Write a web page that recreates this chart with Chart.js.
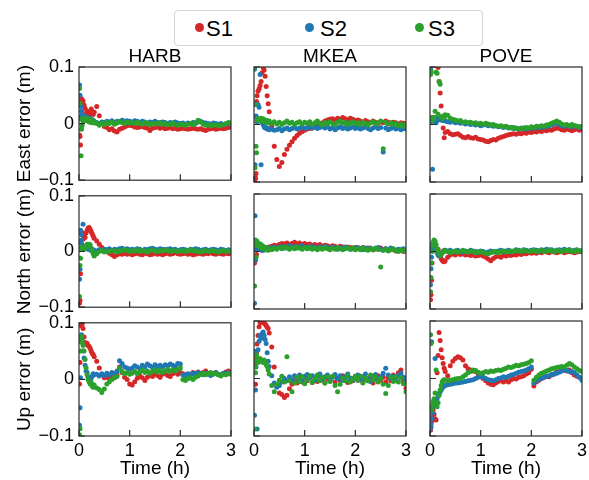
<!DOCTYPE html>
<html lang="en">
<head>
  <meta charset="UTF-8" />
  <title>Position error per station</title>
  <script src="https://cdn.jsdelivr.net/npm/chart.js"></script>
  <style>
    * { margin: 0; padding: 0; box-sizing: border-box; }
    body {
      width: 589px;
      height: 480px;
      position: relative;
      overflow: hidden;
      background: #fff;
      font-family: 'Liberation Sans', Arial, sans-serif;
    }
    canvas { position: absolute; }
    .legend {
      position: absolute;
      left: 174px;
      top: 10px;
      width: 309px;
      height: 36px;
      border: 1px solid #d4d4d4;
      border-radius: 4px;
      background: #fff;
    }
    .legend i {
      position: absolute;
      top: 11.5px;
      width: 9px;
      height: 9px;
      border-radius: 50%;
    }
    .legend span {
      position: absolute;
      top: 6px;
      font-size: 22px;
      line-height: 24px;
      color: #000;
    }
  </style>
</head>
<body>

  <div class="legend" id="legend"></div>

  <script>
    // time stamps (h), shared by every panel
    const T = [
      0.01, 0.02, 0.03, 0.04, 0.05, 0.06, 0.08, 0.10, 0.12, 0.14, 0.16, 0.18, 0.20, 0.22, 0.24, 0.26, 0.28, 0.30,
      0.35, 0.40, 0.45, 0.50, 0.55, 0.60, 0.65, 0.70, 0.75, 0.80, 0.85, 0.90, 0.95, 1.00,
      1.05, 1.10, 1.15, 1.20, 1.25, 1.30, 1.35, 1.40, 1.45, 1.50, 1.55, 1.60, 1.65, 1.70, 1.75, 1.80, 1.85, 1.90, 1.95, 2.00,
      2.05, 2.10, 2.15, 2.20, 2.25, 2.30, 2.35, 2.40, 2.45, 2.50, 2.55, 2.60, 2.65, 2.70, 2.75, 2.80, 2.85, 2.90, 2.95, 3.00
    ];

    const stations = ['HARB', 'MKEA', 'POVE'];
    const components = ['East error (m)', 'North error (m)', 'Up error (m)'];
    const seriesNames = ['S1', 'S2', 'S3'];
    const seriesColors = ['#d62728', '#1f77b4', '#2ca02c'];
    const xTickValues = [0, 1, 2, 3];
    const xTickLabels = ['0', '1', '2', '3'];
    const yTickValues = [-0.1, 0, 0.1];
    const yTickLabels = ['\u22120.1', '0', '0.1'];

    // ---- HARB ----
    const harbEastS1 = [
      -0.02, -0.023, -0.038, 0.038, 0.044, 0.042, 0.04, 0.033, 0.027, 0.018, 0.022, 0.016, 0.015, 0.02, 0.026, 0.022, 0.016, 0.02,
      0.03, 0.014, 0.002, -0.005, -0.007, -0.011, -0.009, -0.013, -0.015, -0.01, -0.008, -0.006, -0.004, -0.003,
      -0.004, -0.006, -0.007, -0.006, -0.005, -0.007, -0.008, -0.012, -0.008, -0.007, -0.006, -0.008, -0.007, -0.009, -0.008, -0.007, -0.009, -0.008, -0.01, -0.009,
      -0.008, -0.009, -0.01, -0.009, -0.008, -0.009, -0.01, -0.009, -0.011, -0.012, -0.01, -0.009, -0.008, -0.01, -0.009, -0.008, -0.009, -0.008, -0.007, -0.006
    ];
    const harbEastS2 = [
      0.068, 0.05, 0.012, 0.03, 0.022, 0.015, 0.012, 0.01, 0.013, 0.009, 0.011, 0.008, 0.01, 0.006, 0.008, 0.004, 0.006, 0.003,
      0.002, 0.0, 0.003, 0.002, 0.004, 0.003, 0.005, 0.002, 0.004, 0.003, 0.006, 0.004, 0.005, 0.004,
      0.003, 0.005, 0.004, 0.002, 0.004, 0.003, 0.001, 0.003, 0.002, 0.004, 0.002, 0.001, 0.003, 0.002, 0.0, 0.002, 0.001, 0.003, 0.001, 0.0,
      0.001, -0.001, 0.001, 0.0, 0.002, 0.0, 0.003, 0.004, 0.002, 0.001, 0.0, -0.001, 0.001, 0.0, -0.001, 0.0, -0.002, -0.001, 0.001, 0.0
    ];
    const harbEastS3 = [
      0.062, 0.036, 0.008, -0.057, -0.01, -0.004, 0.004, 0.009, 0.006, 0.01, 0.005, 0.008, 0.003, 0.007, 0.002, 0.005, 0.001, 0.004,
      0.0, -0.003, 0.001, -0.002, 0.002, 0.0, 0.003, -0.001, 0.001, 0.004, 0.002, 0.0, 0.003, 0.001,
      0.002, 0.0, 0.003, 0.001, -0.001, 0.002, 0.0, -0.002, 0.001, -0.001, 0.0, 0.002, -0.001, 0.0, -0.002, -0.001, 0.001, -0.002, -0.003, -0.001,
      -0.002, -0.003, -0.001, 0.0, -0.002, 0.002, 0.006, 0.003, -0.001, -0.003, -0.002, -0.004, -0.003, -0.002, -0.004, -0.003, -0.002, 0.0, 0.002, 0.001
    ];
    const harbNorthS1 = [
      -0.093, -0.088, -0.04, 0.015, 0.035, 0.03, 0.022, 0.028, 0.025, 0.033, 0.038, 0.042, 0.043, 0.04, 0.036, 0.032, 0.028, 0.024,
      0.019, 0.013, 0.007, 0.003, 0.0, -0.003, -0.006, -0.009, -0.006, -0.004, -0.005, -0.003, -0.005, -0.004,
      -0.006, -0.004, -0.003, -0.005, -0.006, -0.003, -0.004, -0.006, -0.005, -0.003, -0.005, -0.004, -0.006, -0.004, -0.003, -0.005, -0.004, -0.002, -0.004, -0.005,
      -0.004, -0.003, -0.005, -0.004, -0.006, -0.005, -0.003, -0.004, -0.005, -0.003, -0.004, -0.002, -0.004, -0.005, -0.003, -0.004, -0.005, -0.003, -0.004, -0.003
    ];
    const harbNorthS2 = [
      -0.05, -0.032, 0.038, 0.02, 0.03, 0.012, 0.049, 0.008, 0.006, 0.005, 0.007, 0.004, 0.006, 0.003, 0.002, 0.004, 0.003, 0.002,
      0.001, 0.003, 0.002, 0.004, 0.003, 0.005, 0.002, 0.004, 0.003, 0.005, 0.006, 0.004, 0.005, 0.003,
      0.004, 0.003, 0.005, 0.004, 0.002, 0.004, 0.003, 0.005, 0.006, 0.004, 0.003, 0.005, 0.004, 0.003, 0.004, 0.005, 0.003, 0.004, 0.002, 0.003,
      0.004, 0.003, 0.002, 0.004, 0.003, 0.005, 0.004, 0.002, 0.003, 0.004, 0.002, 0.003, 0.004, 0.003, 0.002, 0.004, 0.003, 0.002, 0.003, 0.002
    ];
    const harbNorthS3 = [
      -0.081, -0.025, -0.012, 0.005, 0.008, 0.006, 0.004, 0.008, 0.006, 0.01, 0.013, 0.012, 0.013, 0.012, 0.006, 0.001, -0.004, -0.008,
      -0.004, 0.0, 0.002, -0.001, 0.001, 0.0, 0.002, 0.001, -0.001, 0.002, 0.001, 0.003, 0.002, 0.0,
      0.002, 0.001, 0.003, 0.0, 0.002, 0.001, -0.001, 0.002, 0.003, 0.001, 0.0, 0.002, 0.001, 0.003, 0.002, 0.0, 0.001, 0.002, 0.0, 0.001,
      0.002, 0.0, 0.001, 0.003, 0.001, 0.002, 0.0, -0.001, 0.001, 0.002, 0.0, 0.001, 0.002, 0.0, -0.001, 0.001, 0.002, 0.0, 0.001, 0.0
    ];
    const harbUpS1 = [
      -0.008, 0.03, 0.07, 0.095, 0.098, 0.097, 0.09, 0.075, 0.065, 0.062, 0.064, 0.06, 0.058, 0.055, 0.05, 0.046, 0.044, 0.04,
      0.032, 0.02, 0.008, 0.003, 0.004, 0.002, 0.005, 0.003, 0.008, 0.022, 0.012, 0.004, 0.0, -0.008,
      -0.01, -0.004, 0.002, 0.006, 0.003, -0.002, 0.004, 0.008, 0.005, 0.01, 0.007, 0.004, 0.009, 0.011, 0.007, 0.005, 0.01, 0.012, 0.009, 0.012,
      0.01, 0.008, 0.006, 0.009, 0.012, 0.01, 0.013, 0.01, 0.012, 0.015, 0.011, 0.008, 0.01, 0.012, 0.009, 0.007, 0.01, 0.013, 0.015, 0.012
    ];
    const harbUpS2 = [
      -0.081, -0.05, 0.003, 0.067, 0.079, 0.072, 0.05, 0.038, 0.025, 0.015, 0.012, 0.004, 0.0, -0.004, 0.002, 0.006, 0.01, 0.008,
      0.009, 0.006, 0.01, 0.007, 0.011, 0.008, 0.012, 0.01, 0.015, 0.033, 0.028, 0.022, 0.02, 0.018,
      0.02, 0.024, 0.022, 0.019, 0.025, 0.022, 0.027, 0.024, 0.021, 0.026, 0.023, 0.025, 0.022, 0.026, 0.024, 0.027, 0.025, 0.023, 0.028, 0.027,
      0.008, 0.006, 0.01, 0.008, 0.011, 0.009, 0.012, 0.01, 0.008, 0.011, 0.009, 0.007, 0.01, 0.012, 0.009, 0.008, 0.011, 0.01, 0.012, 0.01
    ];
    const harbUpS3 = [
      -0.098, -0.087, 0.05, 0.072, 0.076, 0.065, 0.06, 0.05, 0.035, 0.02, 0.008, 0.0, -0.004, -0.008, -0.005, -0.012, -0.014, -0.01,
      -0.015, -0.018, -0.023, -0.017, -0.008, -0.004, 0.0, 0.003, 0.005, 0.02, 0.014, 0.01, 0.012, 0.009,
      0.011, 0.014, 0.01, 0.013, 0.016, 0.012, 0.015, 0.011, 0.014, 0.017, 0.013, 0.016, 0.012, 0.015, 0.018, 0.014, 0.017, 0.015, 0.018, 0.02,
      0.0, -0.002, 0.001, 0.003, 0.0, 0.004, 0.006, 0.009, 0.011, 0.008, 0.01, 0.012, 0.009, 0.011, 0.008, 0.006, 0.009, 0.008, 0.01, 0.009
    ];

    // ---- MKEA ----
    const mkeaEastS1 = [
      -0.098, -0.09, -0.094, -0.085, 0.04, 0.05, 0.058, 0.062, 0.068, 0.075, 0.09, 0.099, 0.095, 0.084, 0.066, 0.05, 0.036, 0.022,
      -0.003, -0.038, -0.061, -0.073, -0.066, -0.052, -0.043, -0.036, -0.03, -0.024, -0.019, -0.015, -0.012, -0.01,
      -0.008, -0.007, -0.006, -0.004, -0.002, 0.0, 0.003, 0.006, 0.008, 0.009, 0.01, 0.008, 0.011, 0.009, 0.012, 0.01, 0.008, 0.011, 0.009, 0.007,
      0.008, 0.006, 0.004, 0.007, 0.005, 0.003, 0.006, 0.004, 0.002, 0.005, 0.003, 0.006, 0.004, 0.002, 0.004, 0.003, 0.001, 0.003, 0.002, 0.001
    ];
    const mkeaEastS2 = [
      0.096, -0.07, 0.035, 0.015, 0.012, 0.005, 0.035, 0.03, 0.087, -0.07, 0.004, 0.0, -0.004, -0.006, -0.005, -0.008, -0.007, -0.009,
      -0.008, -0.01, -0.009, -0.007, -0.011, -0.008, -0.006, -0.009, -0.007, -0.005, -0.008, -0.006, -0.004, -0.007,
      -0.005, -0.003, -0.006, -0.004, -0.007, -0.005, -0.003, -0.006, -0.004, -0.008, -0.005, -0.009, -0.006, -0.004, -0.007, -0.005, -0.008, -0.006, -0.004, -0.007,
      -0.005, -0.008, -0.006, -0.004, -0.007, -0.009, -0.006, -0.004, -0.007, -0.005, -0.048, -0.006, -0.009, -0.007, -0.005, -0.008, -0.006, -0.009, -0.007, -0.008
    ];
    const mkeaEastS3 = [
      0.099, -0.075, 0.035, -0.038, -0.049, 0.008, 0.01, 0.006, 0.009, 0.011, 0.007, 0.01, 0.005, 0.008, 0.004, 0.007, 0.003, 0.006,
      0.002, 0.005, 0.001, 0.004, 0.0, 0.003, 0.006, 0.002, 0.004, 0.0, 0.003, 0.005, 0.001, 0.004,
      0.002, 0.005, 0.0, 0.003, 0.006, 0.002, -0.001, 0.004, 0.001, 0.005, 0.002, 0.0, 0.004, 0.006, 0.002, 0.004, 0.0, 0.003, 0.005, 0.001,
      0.003, 0.0, 0.004, 0.002, -0.001, 0.003, 0.005, 0.001, 0.003, 0.006, -0.042, 0.004, 0.001, 0.003, 0.0, 0.002, -0.002, 0.001, -0.003, 0.0
    ];
    const mkeaNorthS1 = [
      -0.02, -0.01, 0.005, 0.01, -0.005, 0.008, 0.012, 0.006, 0.01, 0.004, 0.002, 0.005, 0.003, 0.006, 0.004, 0.007, 0.005, 0.008,
      0.009, 0.011, 0.01, 0.012, 0.014, 0.013, 0.015, 0.012, 0.014, 0.016, 0.013, 0.015, 0.012, 0.014,
      0.012, 0.013, 0.011, 0.012, 0.01, 0.012, 0.009, 0.011, 0.01, 0.008, 0.01, 0.009, 0.007, 0.009, 0.008, 0.006, 0.008, 0.007, 0.005, 0.007,
      0.006, 0.005, 0.007, 0.004, 0.006, 0.005, 0.003, 0.005, 0.004, 0.006, 0.003, 0.005, 0.002, 0.004, 0.003, 0.001, 0.003, 0.002, 0.0, 0.001
    ];
    const mkeaNorthS2 = [
      -0.09, 0.062, -0.015, 0.005, 0.01, 0.003, 0.008, 0.004, 0.007, 0.003, 0.006, 0.002, 0.005, 0.003, 0.006, 0.004, 0.007, 0.005,
      0.006, 0.008, 0.005, 0.007, 0.009, 0.006, 0.008, 0.01, 0.007, 0.009, 0.006, 0.008, 0.01, 0.007,
      0.008, 0.006, 0.009, 0.007, 0.005, 0.008, 0.006, 0.009, 0.007, 0.005, 0.008, 0.006, 0.004, 0.007, 0.005, 0.008, 0.006, 0.004, 0.006, 0.005,
      0.007, 0.005, 0.003, 0.006, 0.004, 0.006, 0.003, 0.005, 0.007, 0.004, 0.002, 0.005, 0.003, 0.006, 0.004, 0.002, 0.004, 0.003, 0.005, 0.002
    ];
    const mkeaNorthS3 = [
      -0.06, 0.01, 0.02, -0.01, 0.015, 0.018, 0.01, 0.014, 0.008, 0.012, 0.006, 0.009, 0.004, 0.007, 0.003, 0.006, 0.002, 0.005,
      0.003, 0.006, 0.004, 0.007, 0.005, 0.008, 0.006, 0.004, 0.007, 0.005, 0.008, 0.006, 0.004, 0.007,
      0.005, 0.007, 0.004, 0.006, 0.003, 0.006, 0.004, 0.007, 0.005, 0.003, 0.006, 0.004, 0.007, 0.005, 0.003, 0.005, 0.007, 0.004, 0.006, 0.003,
      0.005, 0.003, 0.006, 0.004, 0.002, 0.005, 0.003, 0.006, 0.004, -0.027, 0.002, 0.004, 0.001, 0.003, 0.005, 0.002, 0.0, 0.003, 0.001, 0.002
    ];
    const mkeaUpS1 = [
      0.038, 0.026, -0.01, 0.03, 0.045, 0.06, 0.075, 0.09, 0.097, 0.099, 0.099, 0.098, 0.096, 0.095, 0.092, 0.089, 0.087, 0.079,
      0.055, 0.02, -0.012, -0.025, -0.028, -0.033, -0.029, -0.018, -0.01, -0.004, -0.008, -0.002, -0.006, 0.002,
      -0.004, 0.003, -0.007, 0.001, -0.005, 0.004, -0.002, -0.008, 0.0, -0.004, 0.003, -0.006, 0.001, -0.003, 0.005, -0.002, -0.007, 0.0, -0.004, 0.002,
      -0.003, 0.004, -0.006, 0.0, -0.004, 0.003, -0.008, -0.001, 0.005, -0.003, 0.002, -0.006, 0.001, -0.004, 0.006, 0.0, 0.01, 0.015, -0.005, -0.017
    ];
    const mkeaUpS2 = [
      -0.064, 0.047, -0.02, 0.02, 0.03, -0.088, 0.05, 0.065, 0.075, 0.07, 0.078, 0.081, 0.075, 0.068, 0.061, 0.045, 0.03, 0.021,
      0.005, -0.008, -0.015, -0.012, -0.006, 0.0, -0.004, 0.003, -0.002, 0.005, 0.0, 0.006, -0.003, 0.004,
      0.007, 0.001, 0.005, -0.003, 0.004, 0.008, -0.001, 0.003, 0.006, -0.004, 0.002, 0.007, 0.0, 0.005, -0.003, 0.003, 0.008, 0.001, -0.002, 0.004,
      0.006, -0.002, 0.003, 0.008, 0.0, -0.005, 0.004, 0.007, -0.001, 0.003, 0.009, 0.018, 0.006, 0.0, 0.004, -0.003, 0.005, 0.009, 0.002, -0.004
    ];
    const mkeaUpS3 = [
      -0.088, 0.02, 0.01, 0.03, 0.041, 0.035, 0.028, 0.03, 0.035, 0.032, 0.03, 0.028, 0.032, 0.03, 0.024, 0.021, 0.015, 0.008,
      -0.012, -0.023, -0.01, -0.003, 0.004, -0.006, 0.038, -0.004, -0.023, -0.008, 0.002, -0.005, 0.003, -0.009,
      -0.002, 0.005, -0.007, 0.0, 0.006, -0.004, 0.002, -0.008, 0.003, -0.005, 0.004, -0.012, -0.023, -0.01, 0.001, -0.004, 0.005, -0.006, 0.0, 0.004,
      -0.003, 0.004, -0.008, 0.001, -0.004, 0.006, -0.002, 0.003, -0.006, 0.0, -0.01, -0.026, -0.012, 0.002, -0.005, 0.003, -0.006, 0.001, -0.009, -0.023
    ];

    // ---- POVE ----
    const poveEastS1 = [
      0.096, 0.12, 0.13, 0.13, 0.12, 0.12, 0.115, 0.11, 0.105, 0.102, 0.099, 0.075, 0.055, 0.032, 0.012, -0.006, -0.023, -0.014,
      -0.012, -0.016, -0.018, -0.017, -0.016, -0.019, -0.022, -0.023, -0.021, -0.023, -0.024, -0.022, -0.025, -0.026,
      -0.027, -0.029, -0.03, -0.028, -0.026, -0.027, -0.024, -0.022, -0.021, -0.019, -0.018, -0.017, -0.016, -0.017, -0.015, -0.016, -0.014, -0.015, -0.013, -0.014,
      -0.012, -0.013, -0.011, -0.012, -0.01, -0.011, -0.009, -0.01, -0.008, -0.006, -0.007, -0.009, -0.01, -0.008, -0.009, -0.011, -0.009, -0.008, -0.01, -0.009
    ];
    const poveEastS2 = [
      0.099, 0.09, 0.005, 0.012, -0.078, 0.008, 0.012, 0.006, 0.003, 0.01, 0.008, 0.012, 0.009, 0.011, 0.007, 0.01, 0.008, 0.006,
      0.005, 0.004, 0.006, 0.003, 0.004, 0.002, 0.003, 0.001, 0.002, 0.0, 0.001, -0.001, 0.0, -0.002,
      -0.001, 0.0, -0.002, -0.001, -0.003, -0.002, -0.004, -0.003, -0.005, -0.004, -0.006, -0.005, -0.007, -0.006, -0.008, -0.007, -0.006, -0.008, -0.007, -0.006,
      -0.005, -0.006, -0.004, -0.005, -0.003, -0.004, -0.002, -0.001, 0.001, 0.003, 0.0, -0.002, -0.003, -0.001, -0.003, -0.004, -0.002, -0.003, -0.005, -0.004
    ];
    const poveEastS3 = [
      0.087, 0.093, 0.011, 0.006, 0.012, 0.009, 0.012, 0.023, 0.091, 0.089, 0.018, 0.075, 0.07, 0.013, 0.01, 0.015, 0.012, 0.017,
      0.016, 0.011, 0.009, 0.008, 0.006, 0.007, 0.004, 0.005, 0.003, 0.004, 0.002, 0.003, 0.001, 0.002,
      0.0, 0.002, 0.001, -0.001, 0.0, -0.002, -0.003, -0.002, -0.004, -0.003, -0.005, -0.006, -0.005, -0.007, -0.008, -0.006, -0.007, -0.005, -0.006, -0.004,
      -0.005, -0.003, -0.004, -0.002, -0.003, -0.001, 0.0, 0.002, 0.004, 0.006, 0.004, 0.001, -0.001, 0.0, -0.002, 0.0, -0.002, -0.003, -0.004, -0.003
    ];
    const poveNorthS1 = [
      -0.084, -0.075, -0.05, -0.02, 0.005, 0.012, 0.015, 0.012, 0.006, 0.003, 0.004, -0.002, -0.008, -0.012, -0.015, -0.017, -0.018, -0.016,
      -0.01, -0.006, -0.004, -0.006, -0.003, -0.005, -0.004, -0.006, -0.005, -0.007, -0.006, -0.008, -0.007, -0.006,
      -0.008, -0.01, -0.013, -0.016, -0.012, -0.009, -0.008, -0.01, -0.007, -0.008, -0.006, -0.007, -0.005, -0.006, -0.004, -0.005, -0.003, -0.004, -0.002, -0.003,
      -0.002, -0.003, -0.001, -0.002, 0.0, -0.001, -0.002, 0.0, -0.001, -0.002, -0.001, 0.0, -0.002, -0.001, 0.0, -0.001, -0.002, -0.001, 0.0, -0.001
    ];
    const poveNorthS2 = [
      -0.058, -0.03, -0.01, 0.008, 0.012, 0.01, 0.006, 0.002, 0.004, -0.002, -0.006, -0.008, -0.006, -0.004, -0.002, 0.0, 0.001, 0.002,
      0.001, 0.002, 0.0, 0.001, 0.002, 0.0, -0.001, 0.001, 0.0, 0.002, 0.001, 0.0, -0.001, 0.001,
      0.0, -0.002, -0.001, 0.001, 0.0, -0.001, 0.001, 0.002, 0.0, 0.001, 0.002, 0.0, 0.001, 0.003, 0.002, 0.001, 0.003, 0.002, 0.001, 0.002,
      0.003, 0.002, 0.001, 0.003, 0.002, 0.004, 0.002, 0.003, 0.001, 0.002, 0.003, 0.002, 0.004, 0.002, 0.003, 0.001, 0.002, 0.003, 0.001, 0.002
    ];
    const poveNorthS3 = [
      -0.07, -0.045, -0.02, 0.0, 0.01, 0.016, 0.02, 0.018, 0.012, 0.005, 0.0, -0.004, -0.007, -0.005, -0.002, 0.0, 0.002, 0.001,
      0.0, -0.002, 0.0, 0.001, -0.001, 0.0, 0.002, 0.0, -0.001, 0.001, 0.0, -0.002, -0.001, 0.0,
      -0.002, -0.003, -0.004, -0.002, -0.001, 0.0, -0.002, 0.0, 0.001, -0.001, 0.0, 0.001, 0.0, 0.002, 0.001, 0.0, 0.002, 0.001, 0.0, 0.001,
      0.002, 0.0, 0.001, 0.002, 0.0, 0.001, 0.003, 0.001, 0.0, 0.002, 0.001, 0.0, 0.002, 0.001, 0.003, 0.001, 0.0, 0.002, 0.001, 0.0
    ];
    const poveUpS1 = [
      -0.09, -0.085, -0.075, -0.068, -0.06, -0.055, -0.062, -0.07, -0.072, 0.01, 0.04, 0.08, 0.066, 0.05, 0.036, 0.026, 0.018, 0.012,
      0.005, 0.022, 0.03, 0.035, 0.038, 0.036, 0.032, 0.022, 0.017, 0.015, 0.013, 0.012, 0.008, 0.003,
      0.0, -0.004, -0.008, -0.01, -0.011, -0.008, -0.005, -0.003, -0.006, -0.004, -0.006, -0.002, 0.0, -0.001, 0.002, 0.003, 0.005, 0.008, 0.01, 0.016,
      -0.013, -0.006, -0.003, 0.0, 0.002, 0.004, 0.003, 0.006, 0.008, 0.011, 0.012, 0.014, 0.015, 0.013, 0.015, 0.01, 0.006, 0.004, 0.002, 0.0
    ];
    const poveUpS2 = [
      -0.087, -0.08, 0.064, -0.07, -0.06, -0.049, -0.045, 0.035, -0.038, -0.035, -0.03, -0.026, -0.023, -0.02, -0.017, -0.014, -0.013, -0.012,
      -0.011, -0.01, -0.009, -0.008, -0.008, -0.007, -0.006, -0.005, -0.004, -0.003, -0.002, 0.0, 0.002, 0.003,
      0.002, 0.0, -0.002, -0.003, -0.004, -0.002, 0.0, 0.001, 0.003, 0.002, 0.004, 0.006, 0.007, 0.009, 0.011, 0.012, 0.013, 0.015, 0.017, 0.02,
      -0.008, -0.004, -0.001, 0.0, 0.002, 0.004, 0.005, 0.007, 0.008, 0.009, 0.011, 0.013, 0.015, 0.014, 0.012, 0.012, 0.01, 0.006, 0.002, -0.003
    ];
    const poveUpS3 = [
      0.076, 0.061, -0.055, -0.05, -0.045, -0.04, -0.035, -0.025, 0.015, -0.049, -0.042, -0.029, -0.02, -0.012, -0.006, -0.003, -0.002, -0.003,
      -0.004, -0.003, -0.002, -0.001, 0.0, 0.0, 0.003, 0.006, 0.01, 0.012, 0.015, 0.014, 0.011, 0.009,
      0.01, 0.012, 0.011, 0.013, 0.012, 0.014, 0.015, 0.014, 0.016, 0.018, 0.02, 0.019, 0.021, 0.023, 0.022, 0.024, 0.025, 0.026, 0.028, 0.031,
      -0.003, 0.002, 0.006, 0.009, 0.011, 0.013, 0.015, 0.017, 0.018, 0.019, 0.02, 0.021, 0.02, 0.023, 0.026, 0.024, 0.02, 0.017, 0.014, 0.012
    ];

    // rows = components, columns = stations
    const panels = [
      [[harbEastS1, harbEastS2, harbEastS3], [mkeaEastS1, mkeaEastS2, mkeaEastS3], [poveEastS1, poveEastS2, poveEastS3]],
      [[harbNorthS1, harbNorthS2, harbNorthS3], [mkeaNorthS1, mkeaNorthS2, mkeaNorthS3], [poveNorthS1, poveNorthS2, poveNorthS3]],
      [[harbUpS1, harbUpS2, harbUpS3], [mkeaUpS1, mkeaUpS2, mkeaUpS3], [poveUpS1, poveUpS2, poveUpS3]]
    ];

    const FONT = "'Liberation Sans', Arial, sans-serif";
    const colLeft = [79, 254, 430];
    const rowTop = [67, 194, 321];
    const plotW = 152, plotH = 115;

    // legend
    const legend = document.getElementById('legend');
    const dotLeft = [19.5, 129.5, 239.5], textLeft = [31, 145, 253];
    seriesNames.forEach((name, k) => {
      const dot = document.createElement('i');
      dot.style.left = dotLeft[k] + 'px';
      dot.style.background = seriesColors[k];
      const txt = document.createElement('span');
      txt.style.left = textLeft[k] + 'px';
      txt.textContent = name;
      legend.appendChild(dot);
      legend.appendChild(txt);
    });

    // frame + inward ticks, like the original axes
    const frame = {
      id: 'frame',
      afterDatasetsDraw(chart) {
        const { ctx, chartArea: a, scales: { x, y } } = chart;
        ctx.save();
        ctx.strokeStyle = '#2b2b2b';
        ctx.lineWidth = 1.2;
        ctx.strokeRect(a.left, a.top, a.width, a.height);
        ctx.beginPath();
        xTickValues.forEach(v => {
          const px = x.getPixelForValue(v);
          ctx.moveTo(px, a.bottom);
          ctx.lineTo(px, a.bottom - 6);
        });
        yTickValues.forEach(v => {
          const py = y.getPixelForValue(v);
          ctx.moveTo(a.left, py);
          ctx.lineTo(a.left + 6, py);
        });
        ctx.stroke();
        ctx.restore();
      }
    };

    panels.forEach((row, r) => row.forEach((sets, c) => {
      const ml = c === 0 ? 79 : 14;
      const mr = 14;
      const mt = r === 0 ? 20 : 14;
      const mb = r === 2 ? 44 : 14;

      const cv = document.createElement('canvas');
      cv.width = ml + plotW + mr;
      cv.height = mt + plotH + mb;
      cv.style.left = (colLeft[c] - ml) + 'px';
      cv.style.top = (rowTop[r] - mt) + 'px';
      document.body.appendChild(cv);

      new Chart(cv, {
        type: 'scatter',
        data: {
          datasets: sets.map((ys, k) => ({
            label: seriesNames[k],
            data: T.map((t, i) => ({ x: t, y: ys[i] })),
            backgroundColor: seriesColors[k],
            borderWidth: 0,
            pointRadius: 2.5,
            pointHoverRadius: 2.5,
            order: 2 - k,
            clip: 0
          }))
        },
        options: {
          responsive: false,
          animation: false,
          events: [],
          layout: { padding: { left: 0, right: mr, top: r === 0 ? 0 : mt, bottom: 0 } },
          plugins: {
            legend: { display: false },
            tooltip: { enabled: false },
            title: {
              display: r === 0,
              text: stations[c],
              fullSize: false,
              color: '#000',
              font: { family: FONT, size: 19, weight: 'normal', lineHeight: 1 },
              padding: { top: 0, bottom: 1 }
            }
          },
          scales: {
            x: {
              type: 'linear',
              min: 0,
              max: 3,
              afterBuildTicks: s => { s.ticks = xTickValues.map(v => ({ value: v })); },
              afterFit: s => { s.height = mb; },
              grid: { display: false, drawTicks: false },
              border: { display: false },
              ticks: {
                display: r === 2,
                padding: 4,
                color: '#000',
                autoSkip: false,
                maxRotation: 0,
                font: { family: FONT, size: 18 },
                callback: (v, i) => xTickLabels[i]
              },
              title: {
                display: r === 2,
                text: 'Time (h)',
                color: '#000',
                font: { family: FONT, size: 19 },
                padding: { top: 0, bottom: 0 }
              }
            },
            y: {
              min: -0.1,
              max: 0.1,
              afterBuildTicks: s => { s.ticks = yTickValues.map(v => ({ value: v })); },
              afterFit: s => { s.width = ml; },
              grid: { display: false, drawTicks: false },
              border: { display: false },
              ticks: {
                display: c === 0,
                padding: 5,
                color: '#000',
                autoSkip: false,
                font: { family: FONT, size: 18 },
                callback: (v, i) => yTickLabels[i]
              },
              title: {
                display: c === 0,
                text: components[r],
                color: '#000',
                font: { family: FONT, size: 19 },
                padding: { top: 13, bottom: 0 }
              }
            }
          }
        },
        plugins: [frame]
      });
    }));
  </script>

</body>
</html>
